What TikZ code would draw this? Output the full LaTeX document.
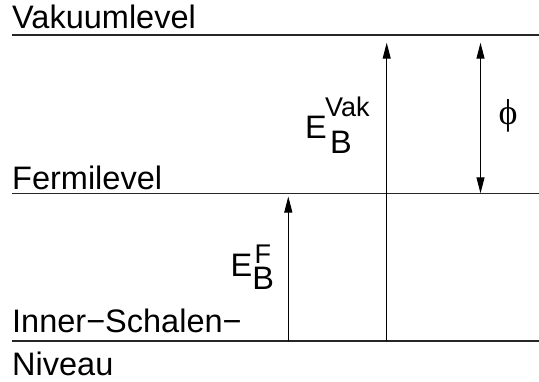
\documentclass[tikz,border=0pt]{standalone}
\usepackage{fontspec}
\setmainfont{Liberation Sans}
\newfontfamily\greekserif{Liberation Serif}
\usetikzlibrary{arrows.meta}
\newcommand{\bigsz}{\fontsize{32.5bp}{36bp}\selectfont}
\newcommand{\supsz}{\fontsize{27bp}{30bp}\selectfont}
\tikzset{
  level/.style={line width=1.2bp, draw=black!85},
  txt/.style={inner sep=0pt, anchor=base west, font=\bigsz},
  arr/.style={line width=1bp, -{Triangle[length=16bp,width=8bp]}},
  darr/.style={line width=1bp, {Triangle[length=16bp,width=8bp]}-{Triangle[length=16bp,width=8bp]}}
}
\begin{document}
\begin{tikzpicture}[x=1bp, y=-1bp]
\useasboundingbox (0,0) rectangle (539,381);
% energy levels
\coordinate (vacL) at (12,35);    \coordinate (vacR) at (539,35);
\coordinate (ferL) at (12,193.5); \coordinate (ferR) at (539,193.5);
\coordinate (innL) at (12,341);   \coordinate (innR) at (539,341);
\draw[level] (vacL) -- (vacR);
\draw[level] (ferL) -- (ferR);
\draw[level] (innL) -- (innR);
% level names
\node[txt] (tvac) at (12,28.5) {Vakuumlevel};
\node[txt] (tfer) at (12,189) {Fermilevel};
\node[txt] (tinn) at (12,332) {Inner−Schalen−};
\node[txt] (tniv) at (12,375.5) {Niveau};
% binding energies
\coordinate (vakBot) at (386.7,341);
\coordinate (vakTop) at (386.7,42.7);
\coordinate (fBot) at (288.3,341);
\coordinate (fTop) at (288.3,196.5);
\coordinate (phiTop) at (480.5,42.7);
\coordinate (phiBot) at (480.5,193.3);
\draw[arr] (vakBot) -- (vakTop);
\draw[arr] (fBot) -- (fTop);
\draw[darr] (phiTop) -- (phiBot);
% labels: E with stacked super- and subscript
\node[txt] (eVak) at (305,138.3)
  {E\hspace{-1.7bp}\rlap{\raisebox{21.6bp}{\supsz Vak}}\hspace{5bp}\raisebox{-15bp}{B}};
\node[txt] (eF) at (230.5,276.7)
  {E\rlap{\hspace{2.3bp}\raisebox{13.7bp}{\supsz F}}\raisebox{-12.3bp}{B}};
\node[inner sep=0pt, font=\greekserif\fontsize{36bp}{40bp}\selectfont] (phi) at (508,116) {ϕ};
\end{tikzpicture}
\end{document}
